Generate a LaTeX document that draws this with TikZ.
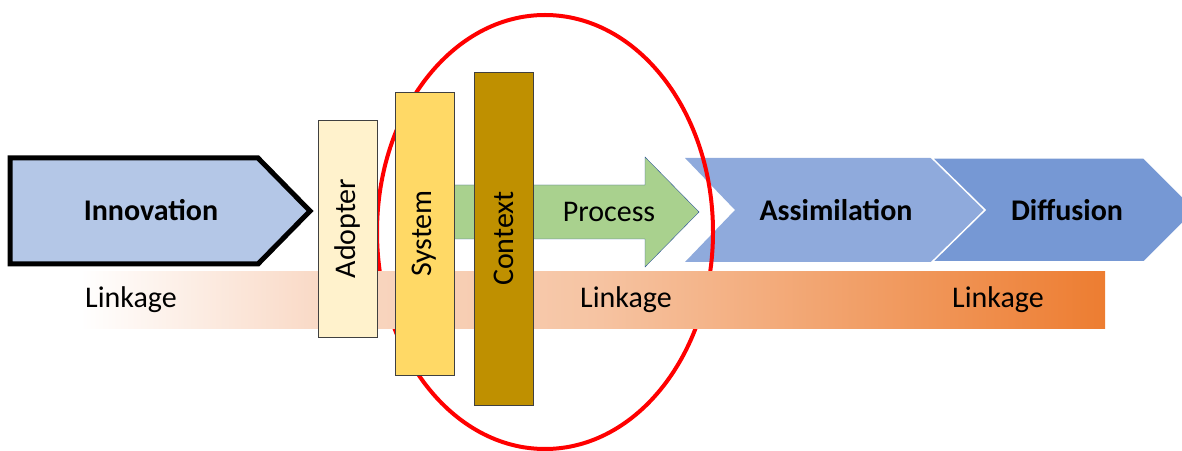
\documentclass[tikz,border=0pt]{standalone}
\usepackage{fontspec}
\setmainfont{Carlito}
\usepackage{xcolor}
\usepackage{tikz}
\definecolor{innovationcolor}{RGB}{180, 199, 231}
\definecolor{adoptercolor}{RGB}{255, 242, 204}
\definecolor{systemcolor}{RGB}{255, 217, 102}
\definecolor{contextcolor}{RGB}{191, 144, 0}
\definecolor{processcolor}{RGB}{169, 209, 142}
\definecolor{processborder}{RGB}{47, 85, 151}
\definecolor{assimilationcolor}{RGB}{143, 170, 220}
\definecolor{diffusioncolor}{RGB}{118, 152, 212}
\definecolor{circlecolor}{RGB}{255, 0, 0}
\pgfdeclarehorizontalshading{linkageshade}{100bp}{rgb(0bp)=(1,1,1); rgb(25bp)=(1,1,1); rgb(37bp)=(0.976,0.847,0.769); rgb(50bp)=(0.965,0.769,0.639); rgb(75bp)=(0.929,0.490,0.192); rgb(100bp)=(0.929,0.490,0.192)}

\begin{document}
\begin{tikzpicture}[x=1pt, y=1pt,
        txt/.style={font=\fontsize{30}{36}\selectfont, inner sep=0pt},
        boldtxt/.style={font=\fontsize{30}{36}\selectfont\bfseries, inner sep=0pt},
        factor/.style={draw=black!75, rotate=90, minimum height=59pt, inner sep=0pt, font=\fontsize{30}{36}\selectfont}]
        \useasboundingbox (0,0) rectangle (1182,450);

        % Innovation arrow
        \draw[line width=5pt, fill=innovationcolor] (10,292) -- (258,292) -- (310,239) -- (258,186) -- (10,186) -- cycle;
        \node[boldtxt] (innovation) at (151,240) {Innovation};

        % Process arrow
        \draw[draw=processborder, fill=processcolor] (440,265) -- (645,265) -- (645,293) -- (699,238) -- (645,183) -- (645,211) -- (440,211) -- cycle;
        \node[txt] (process) at (609,238) {Process};

        % Assimilation and Diffusion chevrons
        \fill[assimilationcolor] (685,292) -- (932,292) -- (985,240) -- (932,188) -- (685,188) -- (735,240) -- cycle;
        \draw[white, line width=1.5pt, fill=diffusioncolor] (932,292) -- (1144,292) -- (1196,240) -- (1144,188) -- (932,188) -- (985,240) -- cycle;
        \node[boldtxt] (assimilation) at (836,240) {Assimilation};
        \node[boldtxt] (diffusion) at (1067,240) {Diffusion};

        % Focus ellipse
        \draw[circlecolor, line width=4pt] (545,218) ellipse [x radius=168, y radius=217];

        % Linkage band
        \shade[shading=linkageshade] (80,122) rectangle (1105,178);
        \node[txt] (linkage1) at (131,150) {Linkage};
        \node[txt] (linkage2) at (626,150) {Linkage};
        \node[txt] (linkage3) at (998,150) {Linkage};

        % Adopter, System, Context bars
        \node[factor, fill=adoptercolor, minimum width=217pt] (adopter) at (347.5,221.5) {Adopter};
        \node[factor, fill=systemcolor, minimum width=283pt] (system) at (424.5,216.5) {System};
        \node[factor, fill=contextcolor, minimum width=333pt] (context) at (503.5,211.5) {Context};
    \end{tikzpicture}
\end{document}
